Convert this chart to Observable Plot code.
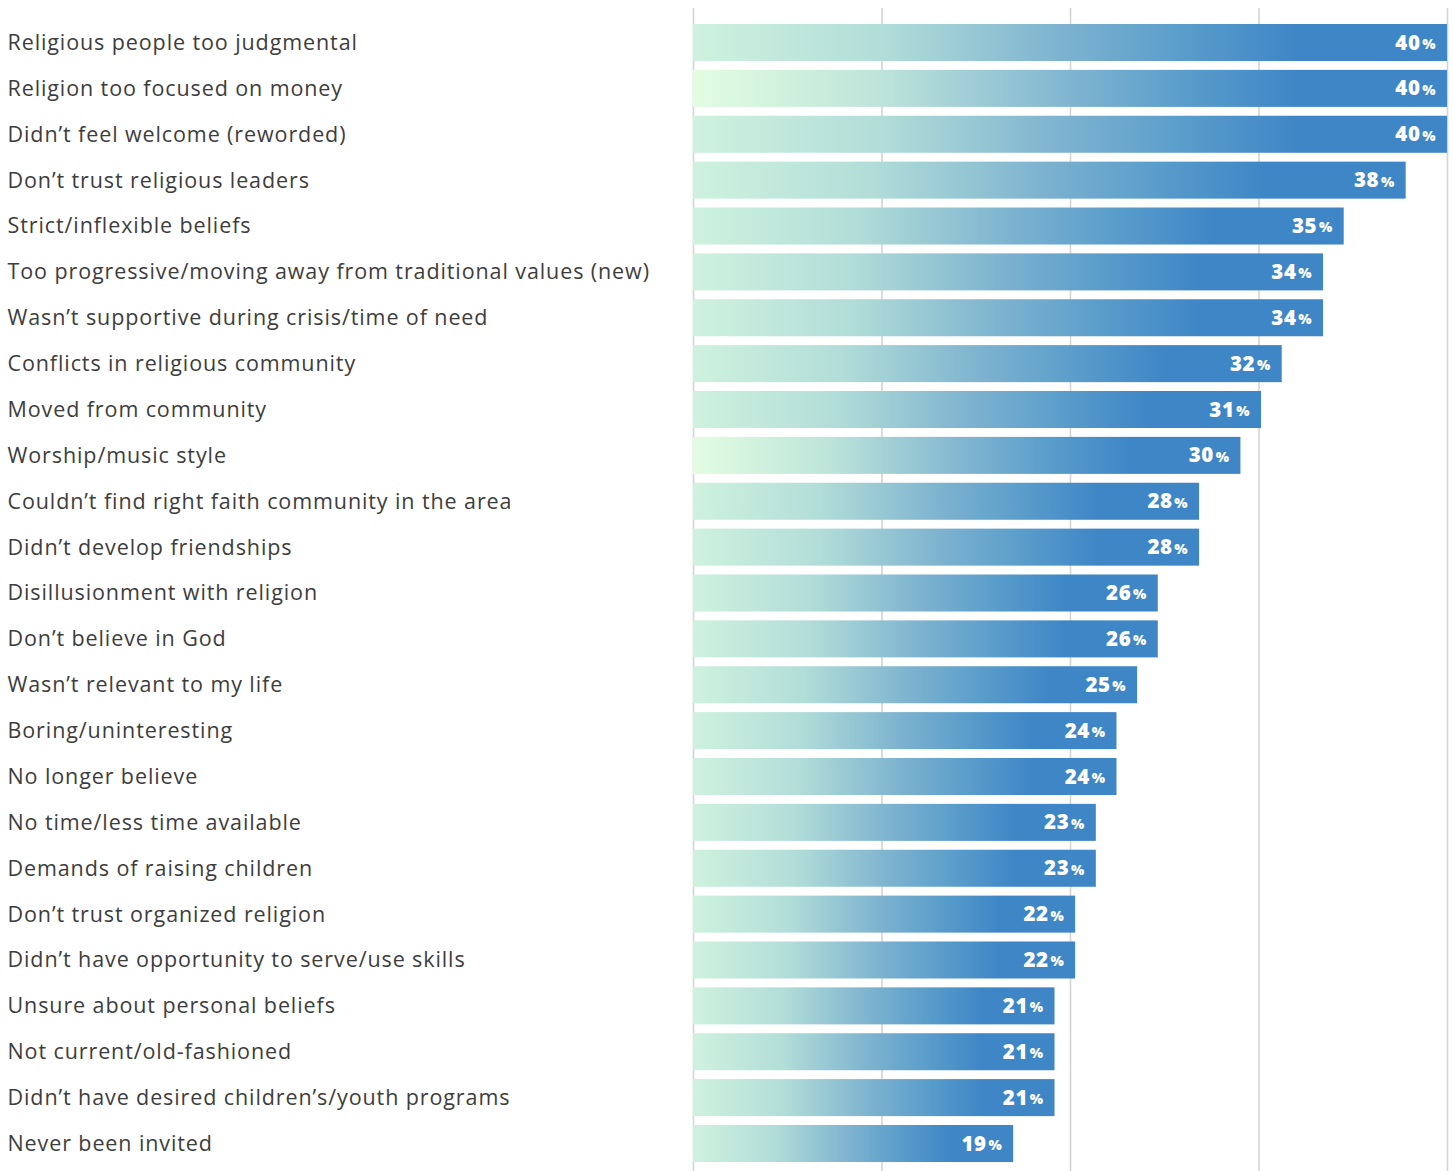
<!DOCTYPE html>
<html>
<head>
<meta charset="utf-8">
<script src="https://cdn.jsdelivr.net/npm/d3@7"></script>
<script src="https://cdn.jsdelivr.net/npm/@observablehq/plot@0.6"></script>
<style>
  html, body { margin: 0; padding: 0; background: #fff; }
  #chart svg { display: block; }
  .lbl text { letter-spacing: 0.9px; }
  .num text { letter-spacing: 0.6px; }
</style>
</head>
<body>
<div id="chart"></div>
<script>
const reasons = [
  "Religious people too judgmental",
  "Religion too focused on money",
  "Didn’t feel welcome (reworded)",
  "Don’t trust religious leaders",
  "Strict/inflexible beliefs",
  "Too progressive/moving away from traditional values (new)",
  "Wasn’t supportive during crisis/time of need",
  "Conflicts in religious community",
  "Moved from community",
  "Worship/music style",
  "Couldn’t find right faith community in the area",
  "Didn’t develop friendships",
  "Disillusionment with religion",
  "Don’t believe in God",
  "Wasn’t relevant to my life",
  "Boring/uninteresting",
  "No longer believe",
  "No time/less time available",
  "Demands of raising children",
  "Don’t trust organized religion",
  "Didn’t have opportunity to serve/use skills",
  "Unsure about personal beliefs",
  "Not current/old-fashioned",
  "Didn’t have desired children’s/youth programs",
  "Never been invited"
];
const percents = [40, 40, 40, 38, 35, 34, 34, 32, 31, 30, 28, 28, 26, 26, 25, 24, 24, 23, 23, 22, 22, 21, 21, 21, 19];
const brightStart = [false, true, false, false, false, false, false, false, false, true, false, false, false, false, false, false, false, false, false, false, false, false, false, false, false];

const data = reasons.map((r, i) => ({reason: r, value: percents[i], grad: brightStart[i] ? "url(#gradB)" : "url(#gradA)"}));

const xMin = 3.5, xMax = 40;
const gridTicks = d3.range(5).map(i => xMin + (xMax - xMin) * i / 4);

const chart = Plot.plot({
  width: 1453,
  height: 1171,
  marginLeft: 693,
  marginRight: 6,
  marginTop: 8,
  marginBottom: 0,
  x: {domain: [xMin, xMax], axis: null},
  y: {domain: reasons, paddingInner: 0.193, paddingOuter: 0.2725, align: 0.64, round: false, axis: null},
  marks: [
    Plot.gridX(gridTicks, {stroke: "#d4d4d4", strokeOpacity: 1, strokeWidth: 1.6}),
    Plot.barX(data, {x1: xMin, x2: "value", y: "reason", fill: "grad"}),
    Plot.text(data, {
      y: "reason", text: "reason", frameAnchor: "left", dx: -686, textAnchor: "start",
      fontFamily: "'Open Sans', sans-serif", fontSize: 21.5, fill: "#3d3d3d",
      className: "lbl"
    }),
    Plot.text(data, {
      x: "value", y: "reason", text: d => String(d.value), textAnchor: "end", dx: -27, dy: 0,
      fontFamily: "'Open Sans', sans-serif", fontWeight: 800, fontSize: 20.5, fill: "#fff",
      className: "num"
    }),
    Plot.text(data, {
      x: "value", y: "reason", text: d => "%", textAnchor: "end", dx: -12, dy: 1.5,
      fontFamily: "'Open Sans', sans-serif", fontWeight: 800, fontSize: 14, fill: "#fff"
    })
  ]
});

const ns = "http://www.w3.org/2000/svg";
const defs = document.createElementNS(ns, "defs");
function addGrad(id, stops) {
  const g = document.createElementNS(ns, "linearGradient");
  g.setAttribute("id", id);
  g.setAttribute("x1", "0"); g.setAttribute("x2", "1");
  g.setAttribute("y1", "0"); g.setAttribute("y2", "0");
  for (const [o, c] of stops) {
    const s = document.createElementNS(ns, "stop");
    s.setAttribute("offset", o);
    s.setAttribute("stop-color", c);
    g.appendChild(s);
  }
  defs.appendChild(g);
}
addGrad("gradA", [[0, "#cff2df"], [0.25, "#b2ddd8"], [0.5, "#7bb1cf"], [0.65, "#5a9dcb"], [0.8, "#3f86c6"], [1, "#3f86c6"]]);
addGrad("gradB", [[0, "#e3fde2"], [0.25, "#bde4da"], [0.5, "#80b5d0"], [0.65, "#5a9dcb"], [0.8, "#3f86c6"], [1, "#3f86c6"]]);
chart.insertBefore(defs, chart.firstChild);

document.getElementById("chart").appendChild(chart);
</script>
</body>
</html>
